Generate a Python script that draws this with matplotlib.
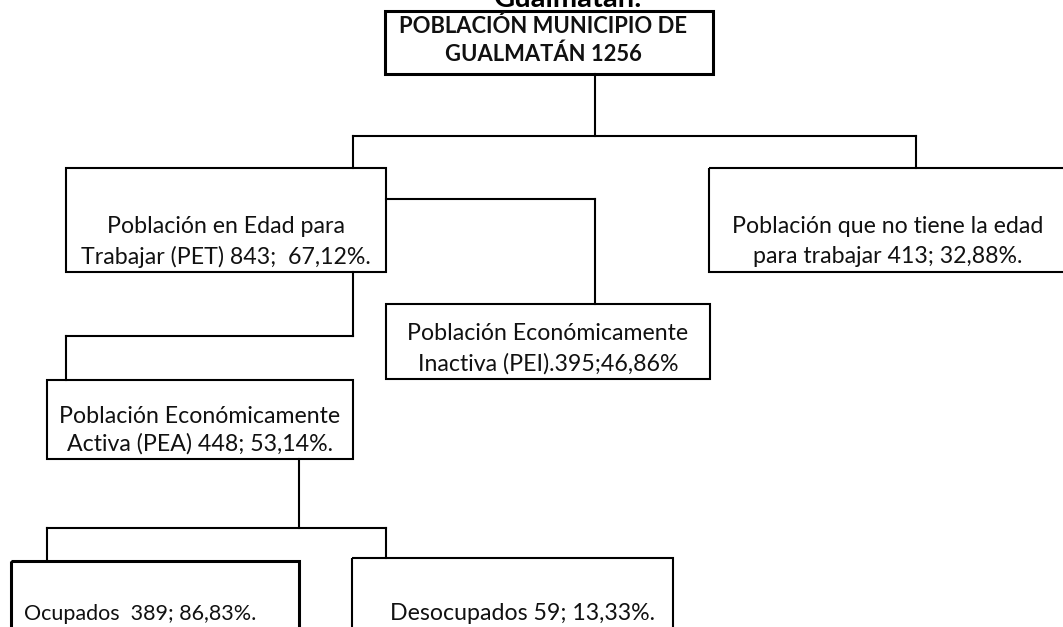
import matplotlib
matplotlib.use("Agg")
import matplotlib.pyplot as plt
from matplotlib.patches import Rectangle

# ---- content ----
title_tail = "Gualmatán:"
root_lines = ["POBLACIÓN MUNICIPIO DE", "GUALMATÁN 1256"]
pet_lines = ["Población en Edad para", "Trabajar (PET) 843;  67,12%."]
no_pet_lines = ["Población que no tiene la edad", "para trabajar 413; 32,88%."]
pei_lines = ["Población Económicamente", "Inactiva (PEI).395;46,86%"]
pea_lines = ["Población Económicamente", "Activa (PEA) 448; 53,14%."]
ocup_lines = ["Ocupados  389; 86,83%."]
desocup_lines = ["Desocupados 59; 13,33%."]

W, H = 1063, 627
fig = plt.figure(figsize=(W / 100, H / 100), dpi=100)
ax = fig.add_axes([0, 0, 1, 1])
ax.set_xlim(0, W)
ax.set_ylim(H, 0)
ax.axis("off")

FONT = "Lato"
BODY = 16.7
LW = 1.5
LW_BOLD = 2.2


def box(x0, y0, x1, y1, lw=LW):
    ax.add_patch(Rectangle((x0, y0), x1 - x0, y1 - y0, fill=False,
                           edgecolor="black", linewidth=lw, joinstyle="miter"))


def line(xs, ys, lw=LW):
    ax.plot(xs, ys, color="black", linewidth=lw, solid_capstyle="projecting",
            solid_joinstyle="miter")


def texts(lines, xc, baselines, size=BODY, weight="normal"):
    for t, yb in zip(lines, baselines):
        ax.text(xc, yb, t, ha="center", va="baseline", fontsize=size,
                fontfamily=FONT, fontweight=weight, color="#111111")


# title fragment cut at the top (as in the reference)
ax.text(568, 7, title_tail, ha="center", va="baseline", fontsize=21,
        fontfamily=FONT, fontweight="bold")

# root
box(385, 11, 713, 74, lw=LW_BOLD)
texts(root_lines, 543, [33, 61], size=15.8, weight="bold")
line([595, 595], [74, 136])
line([353, 916], [136, 136])
line([353, 353], [136, 168])
line([916, 916], [136, 168])

# PET
box(66, 168, 386, 272)
texts(pet_lines, 226, [233, 264])
# no PET
box(709, 168, 1070, 272)
texts(no_pet_lines, 888, [233, 263])

# PET -> PEI
line([386, 595], [199, 199])
line([595, 595], [199, 304])
box(386, 304, 710, 379)
texts(pei_lines, 548, [340, 371])

# PET -> PEA
line([353, 353], [272, 336])
line([66, 353], [336, 336])
line([66, 66], [336, 380])
box(47, 380, 353, 459)
texts(pea_lines, 200, [423, 451])

# PEA -> Ocupados / Desocupados
line([299, 299], [459, 528])
line([47, 386], [528, 528])
line([47, 47], [528, 561])
line([386, 386], [528, 558])
box(11, 561, 299, 700, lw=LW_BOLD)
texts(ocup_lines, 140, [620], size=15.5)
box(352, 558, 673, 700)
texts(desocup_lines, 522, [620])

fig.savefig("out.png", dpi=100)
